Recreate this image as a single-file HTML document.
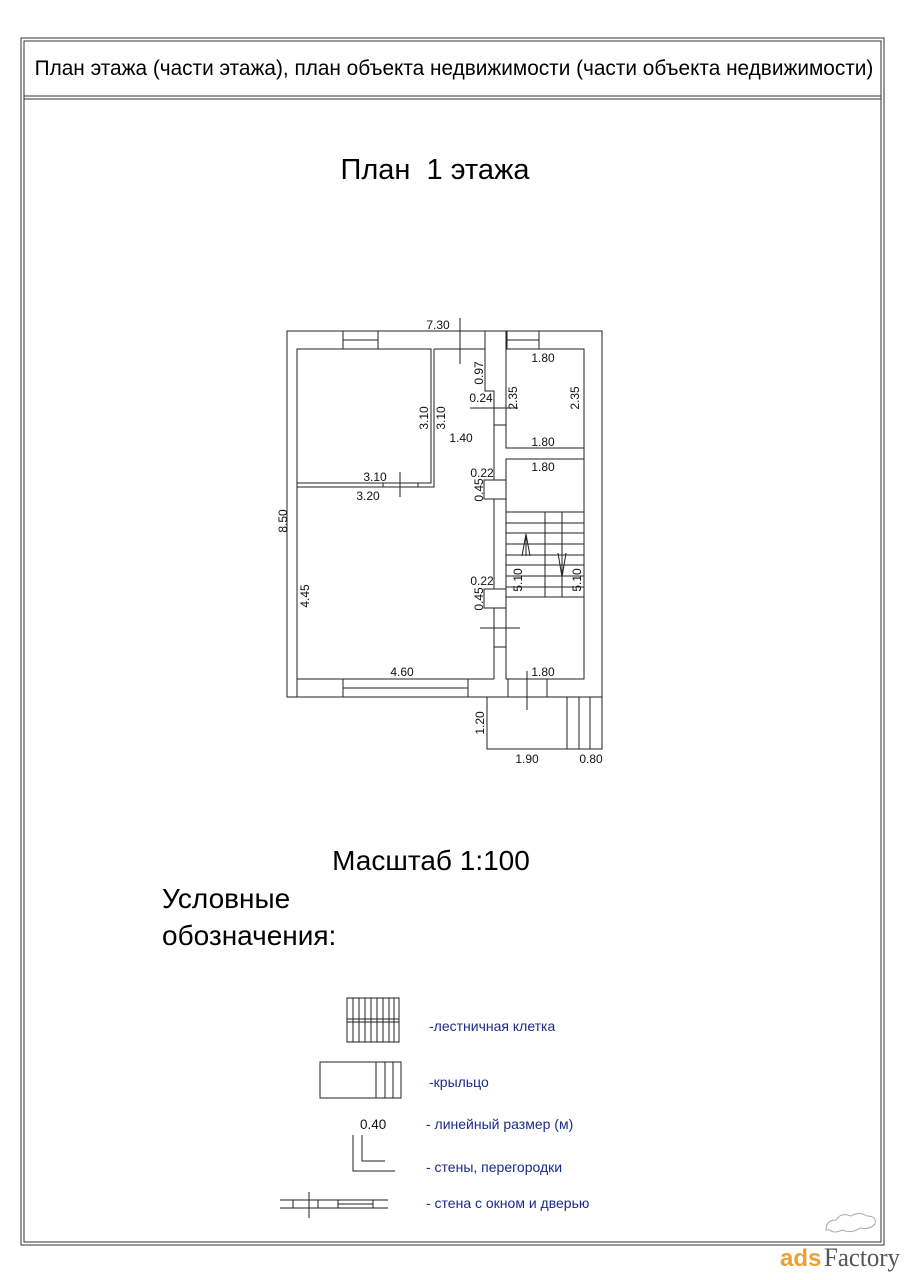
<!DOCTYPE html>
<html><head><meta charset="utf-8"><style>
html,body{margin:0;padding:0;background:#fff;}
svg{display:block}
text{font-family:"Liberation Sans",sans-serif;}
</style></head><body>
<svg width="904" height="1280" viewBox="0 0 904 1280" xmlns="http://www.w3.org/2000/svg">
<rect width="904" height="1280" fill="#fff"/>
<g fill="none" stroke="#333" stroke-width="1">
<rect x="21" y="38" width="863" height="1207"/>
<rect x="24" y="41" width="857" height="1201"/>
<line x1="24" y1="96" x2="881" y2="96"/>
<line x1="24" y1="99" x2="881" y2="99"/>
</g>
<text x="454" y="75" font-size="20.8" text-anchor="middle">План этажа (части этажа), план объекта недвижимости (части объекта недвижимости)</text>
<text x="435" y="179" font-size="29" text-anchor="middle" xml:space="preserve">План  1 этажа</text>
<text x="431" y="870" font-size="28" text-anchor="middle">Масштаб 1:100</text>
<text x="162" y="908" font-size="28">Условные</text>
<text x="162" y="945" font-size="28">обозначения:</text>

<g fill="none" stroke="#222" stroke-width="1">
<rect x="287" y="331" width="315" height="366"/>
<polyline points="297,697 297,349 431,349 431,483 297,483"/>
<polyline points="434,349 434,487 297,487"/>
<line x1="297" y1="487" x2="297" y2="679"/>
<line x1="297" y1="679" x2="494" y2="679"/>
<line x1="343" y1="331" x2="343" y2="349"/><line x1="378" y1="331" x2="378" y2="349"/><line x1="343" y1="340" x2="378" y2="340"/>
<line x1="434" y1="349" x2="485" y2="349"/>
<line x1="383" y1="483" x2="383" y2="487"/><line x1="418" y1="483" x2="418" y2="487"/>
<line x1="400" y1="472" x2="400" y2="497"/>
<polyline points="485,331 485,391 494,391 494,480"/>
<polyline points="506,331 506,448"/>
<line x1="494" y1="425" x2="506" y2="425"/>
<rect x="484" y="480" width="22" height="19"/>
<line x1="494" y1="499" x2="494" y2="589"/>
<rect x="484" y="589" width="22" height="19"/>
<line x1="494" y1="608" x2="494" y2="679"/>
<line x1="506" y1="459" x2="506" y2="679"/>
<line x1="494" y1="647" x2="506" y2="647"/>
<line x1="480" y1="628" x2="520" y2="628"/>
<rect x="506" y="349" width="78" height="99"/>
<line x1="507" y1="331" x2="507" y2="349"/><line x1="539" y1="331" x2="539" y2="349"/><line x1="507" y1="340" x2="539" y2="340"/>
<rect x="506" y="459" width="78" height="220"/>
<line x1="506" y1="512" x2="584" y2="512"/>
<line x1="506" y1="523" x2="584" y2="523"/>
<line x1="506" y1="533" x2="584" y2="533"/>
<line x1="506" y1="544" x2="584" y2="544"/>
<line x1="506" y1="555" x2="584" y2="555"/>
<line x1="506" y1="565" x2="584" y2="565"/>
<line x1="506" y1="576" x2="584" y2="576"/>
<line x1="506" y1="587" x2="584" y2="587"/>
<line x1="506" y1="597" x2="584" y2="597"/>
<line x1="545" y1="512" x2="545" y2="597"/>
<line x1="562" y1="512" x2="562" y2="597"/>
<line x1="526" y1="556" x2="526" y2="534"/><polyline points="522,556 526,534 530,556"/>
<line x1="562" y1="553" x2="562" y2="577"/><polyline points="558,553 562,577 566,553"/>
<line x1="584" y1="349" x2="584" y2="679"/>
<line x1="506" y1="679" x2="584" y2="679"/>
<line x1="343" y1="679" x2="343" y2="697"/><line x1="468" y1="679" x2="468" y2="697"/><line x1="343" y1="688" x2="468" y2="688"/>
<line x1="508" y1="679" x2="508" y2="697"/><line x1="547" y1="679" x2="547" y2="697"/>
<line x1="527" y1="671" x2="527" y2="710"/>
<polyline points="487,697 487,749 602,749 602,697"/>
<line x1="567" y1="697" x2="567" y2="749"/><line x1="579" y1="697" x2="579" y2="749"/><line x1="590" y1="697" x2="590" y2="749"/>
<line x1="460" y1="318" x2="460" y2="364"/>
<line x1="470" y1="408" x2="518" y2="408"/>
</g>
<g font-size="12" fill="#111">
<text x="438" y="329" text-anchor="middle">7.30</text>
<text x="543" y="362" text-anchor="middle">1.80</text>
<text x="543" y="446" text-anchor="middle">1.80</text>
<text x="543" y="471" text-anchor="middle">1.80</text>
<text x="461" y="442" text-anchor="middle">1.40</text>
<text x="481" y="402" text-anchor="middle">0.24</text>
<text x="482" y="477" text-anchor="middle">0.22</text>
<text x="482" y="585" text-anchor="middle">0.22</text>
<text x="375" y="481" text-anchor="middle">3.10</text>
<text x="368" y="500" text-anchor="middle">3.20</text>
<text x="402" y="676" text-anchor="middle">4.60</text>
<text x="543" y="676" text-anchor="middle">1.80</text>
<text x="527" y="763" text-anchor="middle">1.90</text>
<text x="591" y="763" text-anchor="middle">0.80</text>
<text transform="translate(287,521) rotate(-90)" text-anchor="middle">8.50</text>
<text transform="translate(309,596) rotate(-90)" text-anchor="middle">4.45</text>
<text transform="translate(428,418) rotate(-90)" text-anchor="middle">3.10</text>
<text transform="translate(445,418) rotate(-90)" text-anchor="middle">3.10</text>
<text transform="translate(483,373) rotate(-90)" text-anchor="middle">0.97</text>
<text transform="translate(517,398) rotate(-90)" text-anchor="middle">2.35</text>
<text transform="translate(579,398) rotate(-90)" text-anchor="middle">2.35</text>
<text transform="translate(483,490) rotate(-90)" text-anchor="middle">0.45</text>
<text transform="translate(483,599) rotate(-90)" text-anchor="middle">0.45</text>
<text transform="translate(522,580) rotate(-90)" text-anchor="middle">5.10</text>
<text transform="translate(581,580) rotate(-90)" text-anchor="middle">5.10</text>
<text transform="translate(484,723) rotate(-90)" text-anchor="middle">1.20</text>
</g>

<g fill="none" stroke="#222" stroke-width="1">
<rect x="347" y="998" width="52" height="44"/>
<line x1="347" y1="1019" x2="399" y2="1019"/><line x1="347" y1="1022" x2="399" y2="1022"/>
<line x1="353" y1="998" x2="353" y2="1042"/><line x1="359" y1="998" x2="359" y2="1042"/>
<line x1="365" y1="998" x2="365" y2="1042"/><line x1="371" y1="998" x2="371" y2="1042"/>
<line x1="377" y1="998" x2="377" y2="1042"/><line x1="383" y1="998" x2="383" y2="1042"/>
<line x1="389" y1="998" x2="389" y2="1042"/><line x1="394" y1="998" x2="394" y2="1042"/>
<rect x="320" y="1062" width="81" height="36"/>
<line x1="376" y1="1062" x2="376" y2="1098"/><line x1="385" y1="1062" x2="385" y2="1098"/><line x1="393" y1="1062" x2="393" y2="1098"/>
<polyline points="353,1135 353,1171 395,1171"/>
<polyline points="362,1135 362,1161 385,1161"/>
<line x1="280" y1="1200" x2="388" y2="1200"/><line x1="280" y1="1208" x2="388" y2="1208"/>
<line x1="293" y1="1200" x2="293" y2="1208"/><line x1="318" y1="1200" x2="318" y2="1208"/>
<line x1="309" y1="1192" x2="309" y2="1218"/>
<rect x="338" y="1200" width="35" height="8"/><line x1="338" y1="1204" x2="373" y2="1204"/>
</g>
<g font-size="14" fill="#1a2a8a">
<text x="429" y="1031">-лестничная клетка</text>
<text x="429" y="1087">-крыльцо</text>
<text x="426" y="1129">- линейный размер (м)</text>
<text x="426" y="1172">-  стены, перегородки</text>
<text x="426" y="1208">-  стена  с окном  и дверью</text>
</g>
<text x="360" y="1129" font-size="13.5" fill="#111">0.40</text>

<g fill="none" stroke="#aaa" stroke-width="1">
<path d="M826,1230 q0,-10 10,-10 q5,-8 15,-4 q8,-5 16,0 q10,0 8,8 q-5,6 -15,4 q-8,6 -18,2 q-8,4 -12,0 z"/>
</g>
<text x="780" y="1266" font-size="24" fill="#f0a030" font-weight="bold">ads</text>
<text x="824" y="1266" font-size="26" fill="#555" style="font-family:'Liberation Serif',serif" textLength="76" lengthAdjust="spacingAndGlyphs">Factory</text>
</svg>
</body></html>
